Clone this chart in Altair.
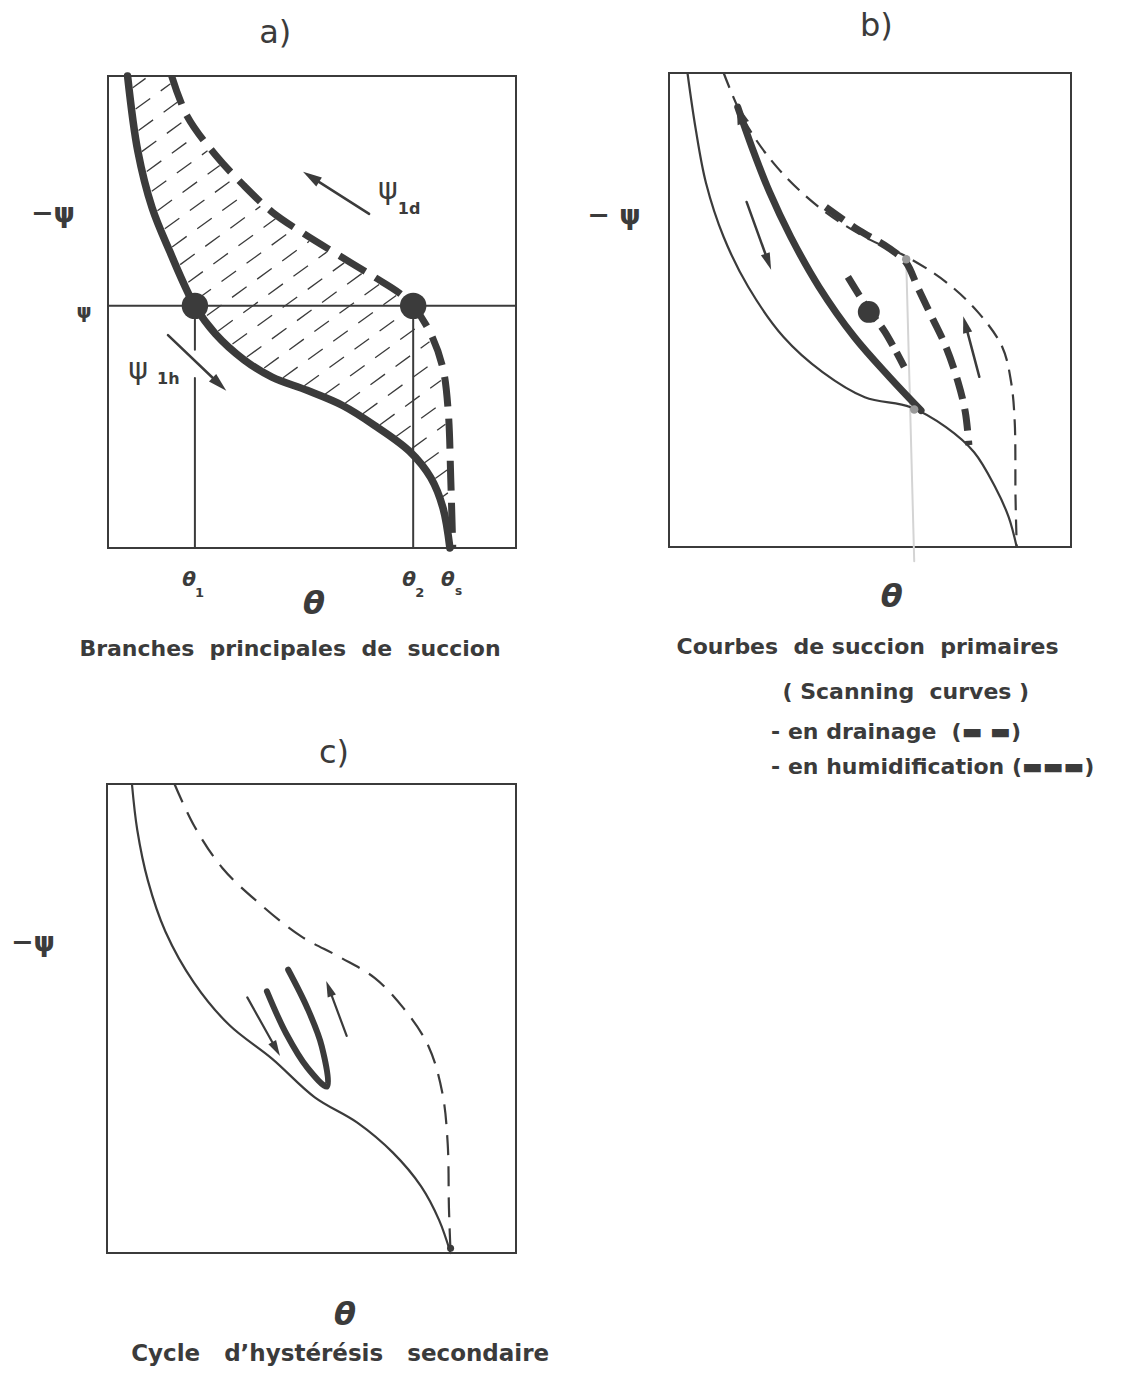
import math
import altair as alt
import numpy as np
import pandas as pd

INK = "#3b3b3b"
FONT = "DejaVu Sans"
NB = "\u00a0"

# ---------------- panel frames (page pixels: left, right, top, bottom) ----------------
FRAME_A = (108, 516, 76, 548)
FRAME_B = (669, 1071, 73, 547)
FRAME_C = (107, 516, 784, 1253)

# ---------------- data (theta on u in 0..1, -psi on v in 0..1) ----------------
# panel a : main branches
A_DRY_U = [0.048, 0.073, 0.108, 0.151, 0.213, 0.263, 0.333, 0.402, 0.488, 0.575, 0.653, 0.739, 0.791, 0.821, 0.838]
A_DRY_V = [1.000, 0.841, 0.721, 0.629, 0.513, 0.454, 0.399, 0.362, 0.334, 0.302, 0.260, 0.205, 0.149, 0.085, 0.000]
A_WET_U = [0.156, 0.194, 0.264, 0.333, 0.402, 0.480, 0.566, 0.653, 0.713, 0.748, 0.791, 0.821, 0.834, 0.840, 0.845]
A_WET_V = [1.000, 0.915, 0.832, 0.768, 0.712, 0.666, 0.620, 0.574, 0.541, 0.513, 0.454, 0.380, 0.288, 0.149, 0.000]
A_PSI = 0.513
A_THETA = [0.213, 0.748]

# panel b : primary scanning curves
B_DRY_U = [0.046, 0.066, 0.092, 0.136, 0.197, 0.285, 0.382, 0.487, 0.601, 0.689, 0.759, 0.811, 0.845, 0.865]
B_DRY_V = [1.000, 0.884, 0.768, 0.654, 0.549, 0.443, 0.369, 0.316, 0.295, 0.253, 0.200, 0.127, 0.063, 0.000]
B_WET_U = [0.136, 0.189, 0.268, 0.373, 0.487, 0.592, 0.689, 0.768, 0.829, 0.851, 0.860, 0.862, 0.865]
B_WET_V = [1.000, 0.897, 0.802, 0.717, 0.654, 0.612, 0.559, 0.496, 0.422, 0.348, 0.264, 0.105, 0.000]
B_SCAN_H_U = [0.171, 0.206, 0.250, 0.303, 0.373, 0.461, 0.548, 0.627]
B_SCAN_H_V = [0.928, 0.844, 0.749, 0.654, 0.549, 0.443, 0.359, 0.288]
B_SCAN_D1_U = [0.390, 0.469, 0.548, 0.590, 0.618, 0.654, 0.689, 0.719, 0.737, 0.746]
B_SCAN_D1_V = [0.717, 0.670, 0.630, 0.600, 0.549, 0.485, 0.422, 0.348, 0.285, 0.215]
B_SCAN_D2_U = [0.445, 0.497, 0.537, 0.585]
B_SCAN_D2_V = [0.570, 0.500, 0.454, 0.380]
B_POINT = (0.497, 0.496)
B_MARKS_U = [0.590, 0.610]
B_MARKS_V = [0.607, 0.290]

# panel c : secondary hysteresis cycle
C_DRY_U = [0.061, 0.074, 0.100, 0.143, 0.213, 0.299, 0.404, 0.508, 0.612, 0.699, 0.768, 0.812, 0.840]
C_DRY_V = [1.000, 0.902, 0.794, 0.685, 0.576, 0.486, 0.414, 0.332, 0.278, 0.214, 0.142, 0.070, 0.000]
C_WET_U = [0.165, 0.213, 0.282, 0.369, 0.473, 0.569, 0.655, 0.725, 0.786, 0.820, 0.833, 0.836, 0.840]
C_WET_V = [1.000, 0.911, 0.821, 0.748, 0.676, 0.631, 0.586, 0.522, 0.441, 0.341, 0.233, 0.097, 0.000]
C_LOOP_U = [0.391, 0.438, 0.490, 0.538, 0.525, 0.490, 0.443]
C_LOOP_V = [0.558, 0.468, 0.395, 0.355, 0.441, 0.522, 0.604]


# ---------------- helpers ----------------
def scales(frame):
    x0, x1, y0, y1 = frame
    sx = alt.Scale(domain=[0, 1], range=[x0, x1], nice=False, zero=False)
    sy = alt.Scale(domain=[0, 1], range=[y1, y0], nice=False, zero=False)
    return sx, sy


def enc(frame, chart, **extra):
    sx, sy = scales(frame)
    return chart.encode(x=alt.X("u:Q", scale=sx, axis=None),
                        y=alt.Y("v:Q", scale=sy, axis=None), **extra)


def curve(frame, u, v, width, dash=None, color=INK, interp="catmull-rom"):
    df = pd.DataFrame({"u": u, "v": v, "i": list(range(len(u)))})
    kw = dict(color=color, strokeWidth=width, interpolate=interp,
              strokeCap="round", strokeJoin="round")
    if dash is not None:
        kw["strokeDash"] = dash
        kw["strokeCap"] = "butt"
    return enc(frame, alt.Chart(df).mark_line(**kw), order="i:Q")


def frame_rect(frame):
    sx, sy = scales(frame)
    df = pd.DataFrame({"u": [0.0], "v": [0.0], "u2": [1.0], "v2": [1.0]})
    return alt.Chart(df).mark_rect(fillOpacity=0, stroke=INK, strokeWidth=2).encode(
        x=alt.X("u:Q", scale=sx, axis=None), x2="u2:Q",
        y=alt.Y("v:Q", scale=sy, axis=None), y2="v2:Q")


def dots(frame, u, v, size, color=INK):
    df = pd.DataFrame({"u": u, "v": v})
    return enc(frame, alt.Chart(df).mark_circle(size=size, color=color, opacity=1))


def arrow(frame, u0, v0, u1, v1, width, head, headw=0.55):
    x0, x1, y0, y1 = frame
    W, H = x1 - x0, y1 - y0
    dx, dy = (u1 - u0) * W, (v1 - v0) * H
    L = math.hypot(dx, dy)
    ux, uy = dx / L, dy / L
    cu = u1 - (head / 2) * ux / W
    cv = v1 - (head / 2) * uy / H
    ang = math.degrees(math.atan2(ux, uy)) % 360
    shaft = curve(frame, [u0, cu], [v0, cv], width, interp="linear")
    path = f"M0,-1L{headw},1L-{headw},1Z"
    hdf = pd.DataFrame({"u": [cu], "v": [cv]})
    hd = enc(frame, alt.Chart(hdf).mark_point(shape=path, filled=True, size=head * head,
                                              angle=ang, color=INK, opacity=1, strokeWidth=0))
    return [shaft, hd]


def label(frame, u, v, text, size, weight="bold", style="normal", align="center"):
    df = pd.DataFrame({"u": [u], "v": [v], "t": [text]})
    return enc(frame, alt.Chart(df).mark_text(font=FONT, fontSize=size, fontWeight=weight,
                                              fontStyle=style, align=align, baseline="middle",
                                              color=INK), text="t:N")


def hatch(frame, dry_u, dry_v, wet_u, wet_v, ang_deg=36, step=19, inset=4):
    x0, x1, y0, y1 = frame
    W, H = x1 - x0, y1 - y0
    a = math.radians(ang_deg)
    d = np.array([math.cos(a), math.sin(a)])
    n = np.array([-math.sin(a), math.cos(a)])
    P = np.column_stack([np.array(dry_u) * W, np.array(dry_v) * H])
    Q = np.column_stack([np.array(wet_u) * W, np.array(wet_v) * H])[::-1]
    poly = np.vstack([P, Q])
    c_all = poly @ n
    rows, k = [], 0
    m = len(poly)
    for c in np.arange(c_all.min() + step * 0.5, c_all.max(), step):
        ts = []
        for j in range(m):
            p, q = poly[j], poly[(j + 1) % m]
            fp, fq = p @ n - c, q @ n - c
            if (fp < 0) != (fq < 0):
                t = fp / (fp - fq)
                ts.append((p + t * (q - p)) @ d)
        ts.sort()
        for s0, s1 in zip(ts[0::2], ts[1::2]):
            s0, s1 = s0 + inset, s1 - inset
            if s1 - s0 < 6:
                continue
            for idx, s in enumerate((s0, s1)):
                pt = c * n + s * d
                rows.append({"u": pt[0] / W, "v": pt[1] / H, "k": k, "i": idx})
            k += 1
    df = pd.DataFrame(rows)
    return enc(frame, alt.Chart(df).mark_line(color=INK, strokeWidth=1.3, strokeDash=[18, 13]),
               detail="k:N", order="i:Q")


# ---------------- panel a ----------------
FA = FRAME_A
layers_a = [
    frame_rect(FA),
    hatch(FA, A_DRY_U, A_DRY_V, A_WET_U, A_WET_V),
    curve(FA, [0, 1], [A_PSI, A_PSI], 2, interp="linear"),
    curve(FA, [A_THETA[0], A_THETA[0]], [A_PSI, 0.42], 2, interp="linear"),
    curve(FA, [A_THETA[0], A_THETA[0]], [0.36, 0.0], 2, interp="linear"),
    curve(FA, [A_THETA[1], A_THETA[1]], [A_PSI, 0.0], 2, interp="linear"),
    curve(FA, A_WET_U, A_WET_V, 7, dash=[30, 12]),
    curve(FA, A_DRY_U, A_DRY_V, 7.5),
    dots(FA, A_THETA, [A_PSI, A_PSI], 700),
    *arrow(FA, 0.640, 0.708, 0.478, 0.797, 2.5, 19),
    *arrow(FA, 0.147, 0.451, 0.290, 0.333, 2.5, 19),
    label(FA, 0.41, 1.091, "a)", 32, weight="normal"),
    label(FA, -0.135, 0.708, "−ψ", 27),
    label(FA, -0.059, 0.500, "ψ", 19),
    label(FA, 0.686, 0.758, "ψ", 30, weight="normal"),
    label(FA, 0.738, 0.718, "1d", 16),
    label(FA, 0.074, 0.377, "ψ", 30, weight="normal"),
    label(FA, 0.148, 0.358, "1h", 16),
    label(FA, 0.199, -0.068, "θ", 20, style="italic"),
    label(FA, 0.224, -0.095, "1", 13),
    label(FA, 0.738, -0.068, "θ", 20, style="italic"),
    label(FA, 0.764, -0.095, "2", 13),
    label(FA, 0.833, -0.068, "θ", 20, style="italic"),
    label(FA, 0.859, -0.092, "s", 12),
    label(FA, 0.505, -0.119, "θ", 32, style="italic"),
    label(FA, 0.446, -0.214, f"Branches{NB} principales{NB} de{NB} succion", 22),
]

# ---------------- panel b ----------------
FB = FRAME_B
layers_b = [
    frame_rect(FB),
    curve(FB, [B_MARKS_U[0], B_MARKS_U[1]], [B_MARKS_V[0], -0.03], 2, color="#d4d4d4", interp="linear"),
    curve(FB, B_DRY_U, B_DRY_V, 2.2),
    curve(FB, B_WET_U, B_WET_V, 2.2, dash=[16, 9]),
    curve(FB, B_SCAN_H_U, B_SCAN_H_V, 7),
    curve(FB, B_SCAN_D1_U, B_SCAN_D1_V, 7, dash=[22, 10]),
    curve(FB, B_SCAN_D2_U, B_SCAN_D2_V, 7, dash=[22, 8]),
    dots(FB, [B_POINT[0]], [B_POINT[1]], 480),
    dots(FB, B_MARKS_U, B_MARKS_V, 70, color="#9a9a9a"),
    *arrow(FB, 0.206, 0.844, 0.168, 0.934, 1, 20, headw=0.6),
    *arrow(FB, 0.193, 0.728, 0.254, 0.585, 2.5, 17),
    *arrow(FB, 0.772, 0.359, 0.732, 0.487, 2.5, 17),
    label(FB, 0.516, 1.099, "b)", 32, weight="normal"),
    label(FB, -0.137, 0.698, "− ψ", 27),
    label(FB, 0.554, -0.105, "θ", 32, style="italic"),
    label(FB, 0.494, -0.211, f"Courbes{NB} de succion{NB} primaires", 22),
    label(FB, 0.589, -0.306, f"( Scanning{NB} curves )", 22),
    label(FB, 0.254, -0.390, f"- en drainage{NB} (▬ ▬)", 22, align="left"),
    label(FB, 0.254, -0.464, "- en humidification (▬▬▬)", 22, align="left"),
]

# ---------------- panel c ----------------
FC = FRAME_C
layers_c = [
    frame_rect(FC),
    curve(FC, C_DRY_U, C_DRY_V, 2.2),
    curve(FC, C_WET_U, C_WET_V, 2.2, dash=[20, 11]),
    curve(FC, C_LOOP_U, C_LOOP_V, 6),
    dots(FC, [C_DRY_U[-1]], [0.01], 50),
    *arrow(FC, 0.343, 0.545, 0.423, 0.420, 2.2, 16),
    *arrow(FC, 0.586, 0.463, 0.536, 0.580, 2.2, 16),
    label(FC, 0.555, 1.066, "c)", 32, weight="normal"),
    label(FC, -0.181, 0.661, "−ψ", 27),
    label(FC, 0.582, -0.133, "θ", 32, style="italic"),
    label(FC, 0.570, -0.215, f"Cycle{NB}{NB} d’hystérésis{NB}{NB} secondaire", 23),
]

chart = alt.layer(
    alt.layer(*layers_a),
    alt.layer(*layers_b),
    alt.layer(*layers_c),
).resolve_scale(x="independent", y="independent").properties(
    width=1126, height=1389,
    autosize=alt.AutoSizeParams(type="none"),
    padding=0,
).configure(background="white").configure_view(strokeOpacity=0)

chart.save("out.html", embed_options={"renderer": "svg", "actions": False})
